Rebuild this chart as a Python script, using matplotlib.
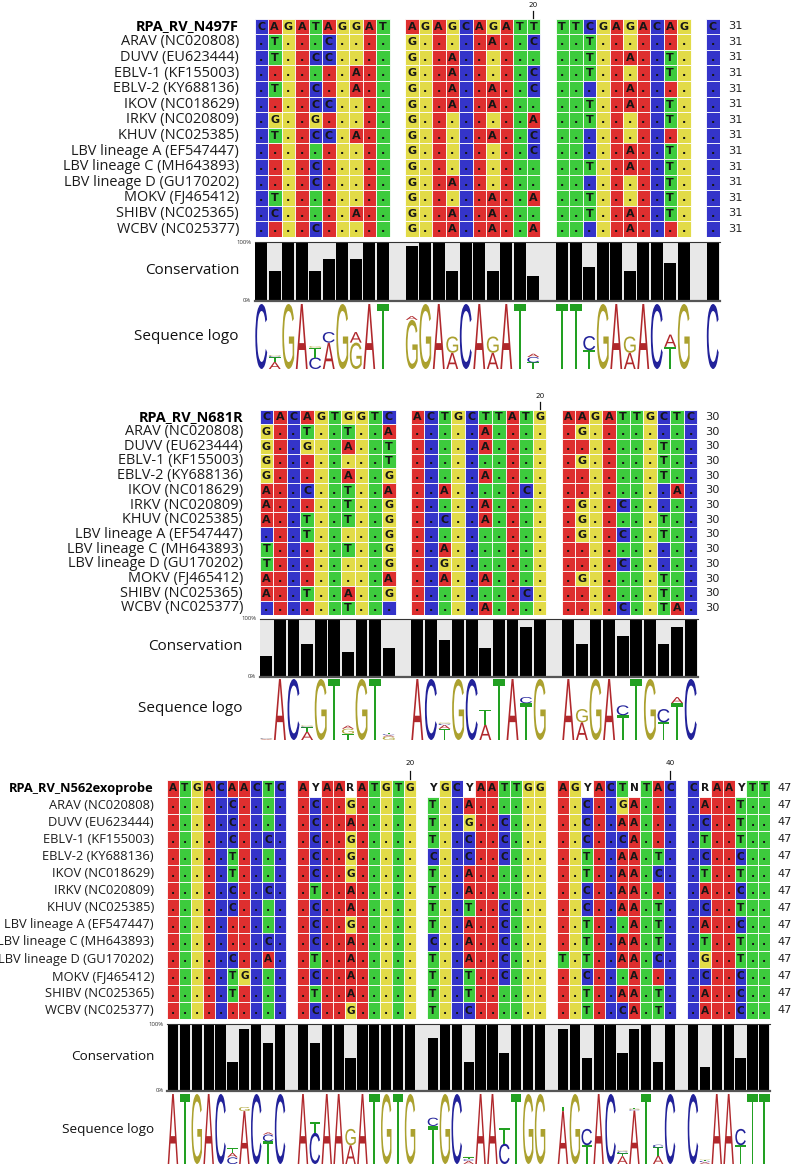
import matplotlib
matplotlib.use("Agg")
import matplotlib.pyplot as plt
from matplotlib.patches import Rectangle, PathPatch
from matplotlib.textpath import TextPath
from matplotlib.font_manager import FontProperties
from matplotlib.transforms import Affine2D
import numpy as np

# ---------------- DATA ----------------
names = ["ARAV (NC020808)", "DUVV (EU623444)", "EBLV-1 (KF155003)", "EBLV-2 (KY688136)",
         "IKOV (NC018629)", "IRKV (NC020809)", "KHUV (NC025385)", "LBV lineage A (EF547447)",
         "LBV lineage C (MH643893)", "LBV lineage D (GU170202)", "MOKV (FJ465412)",
         "SHIBV (NC025365)", "WCBV (NC025377)"]

# Panel 1
p1_name = "RPA_RV_N497F"
p1_ref = ["CAGATAGGAT", "AGAGCAGATT", "TTCGAGACAG", "C"]
p1_rows = [
    ".T...C.... G.....A..C ..T....... .",
    ".T..CC.... G..A...... ..T..A..T. .",
    ".......A.. G..A.....C ..T.....T. .",
    ".T..C..A.. G..A..A..C .....A.... .",
    "....CC.... G..A..A... ..T..A..T. .",
    ".G..G..... G........A ..T.....T. .",
    ".T..CC.A.. G.....A..C .......... .",
    ".......... G........C .....A..T. .",
    "....C..... G......... ..T..A..T. .",
    "....C..... G..A...... ........T. .",
    ".T........ G.....A..A ..T.....T. .",
    ".C.....A.. G..A..A... ..T..A..T. .",
    "....C..... G..A..A..A .....A.... .",
]
p1_cons = [100, 50, 100, 100, 50, 71, 100, 71, 100, 100,
           93, 100, 100, 50, 100, 100, 50, 100, 100, 43,
           100, 100, 57, 100, 100, 50, 100, 100, 64, 100,
           100]
p1_markers = [20]
p1_count = "31"

# Panel 2
p2_name = "RPA_RV_N681R"
p2_ref = ["CACAGTGGTC", "ACTGCTTATG", "AAGATTGCTC"]
p2_rows = [
    "G..T..T..A .....A.... .G........",
    "G..G..A..T .....A.... .......T..",
    "G........T .......... .G.....T..",
    "G.....A..G .....A.... .......T..",
    "A..C..T..A ..A.....C. ........A.",
    "A.....T..G .....A.... .G..C.....",
    "A..T..T..G ..C..A.... .G.....T..",
    "...T.....G .......... .G..C..T..",
    "T.....T..G ..A....... ..........",
    "T........G ..G....... ....C.....",
    "A........A ..A..A.... .G.....T..",
    "A..T..A..G ........C. .......T..",
    "......T... .....A.... ....C..TA.",
]
p2_cons = [36, 100, 100, 57, 100, 100, 43, 100, 100, 50,
           100, 100, 64, 100, 100, 50, 100, 100, 86, 100,
           100, 57, 100, 100, 71, 100, 100, 57, 86, 100]
p2_markers = [20]
p2_count = "30"

# Panel 3
p3_name = "RPA_RV_N562exoprobe"
p3_ref = ["ATGACAACTC", "AYAARATGTG", "YGCYAATTGG", "AGYACTNTAC", "CRAAYTT"]
p3_rows = [
    ".....C.... .C..G..... T..A...... ..C..GA... .A..T..",
    ".....C.... .C..A..... T..G..C... ..C..AA... .C..T..",
    ".....C..C. .C..G..... T..C..C... ..C..CA... .T..T..",
    ".....T.... .C..G..... C..C..C... ..T..AA.T. .C..C..",
    ".....T.... .C..G..... T..A...... ..T..AA.C. .T..T..",
    ".....C..C. .T..A..... T..A...... ..C..AA... .A..C..",
    ".....C.... .C..A..... T..T..C... ..C..AA.T. .C..T..",
    ".......... .C..G..... T..A..C... ..T...A.T. .A..C..",
    "........C. .C..A..... C..A..C... ..T..AA.T. .T..T..",
    ".....C..A. .T..A..... T..A..C... T.T..AA.C. .G..T..",
    ".....TG... .C..A..... T..T..C... ..C...A... .C..C..",
    ".....T.... .T..A..... T..T...... ..T..AA.T. .A..C..",
    ".......... .C..G..... T..C...... ..T..CA.T. .A..C..",
]
p3_cons = [100, 100, 100, 100, 100, 43, 93, 100, 71, 100,
           100, 71, 100, 100, 50, 100, 100, 100, 100, 100,
           79, 100, 100, 43, 100, 100, 57, 100, 100, 100,
           93, 100, 50, 100, 100, 57, 93, 100, 43, 100,
           100, 36, 100, 100, 50, 100, 100]
p3_markers = [20, 40]
p3_count = "47"

# ---------------- STYLE ----------------
W, H = 793, 1165
CELL_COL = {"A": "#DE2F2F", "C": "#3434C9", "G": "#E2DB48", "T": "#3DCB3D"}
LOGO_COL = {"A": "#B0282C", "C": "#22229A", "G": "#ABA12F", "T": "#22A022"}
IUPAC = {"A": "A", "C": "C", "G": "G", "T": "T", "Y": "CT", "R": "AG", "N": "ACGT"}
LABEL_FONT = "Open Sans"
LOGO_FP = FontProperties(family="Liberation Sans")

fig = plt.figure(figsize=(W / 100, H / 100), dpi=100)
renderer = fig.canvas.get_renderer()


def px_axes(left, top, width, height):
    ax = fig.add_axes([left / W, 1 - (top + height) / H, width / W, height / H])
    ax.set_axis_off()
    return ax


def fit_size(text, target, **kw):
    t = fig.text(0, 0, text, fontsize=10, **kw)
    w = t.get_window_extent(renderer).width
    t.remove()
    return 10 * target / w


def draw_letter(ax, ch, x, y, w, h, color):
    tp = TextPath((0, 0), ch, size=1, prop=LOGO_FP)
    bb = tp.get_extents()
    tr = Affine2D().translate(-bb.x0, -bb.y0).scale(w / bb.width, h / bb.height).translate(x, y)
    ax.add_patch(PathPatch(tr.transform_path(tp), facecolor=color, edgecolor="none", lw=0))


def draw_panel(name, ref_blocks, rows, cons, markers, count, g):
    blocks_len = [len(b) for b in ref_blocks]
    gu = g["gapw"] / g["cw"]
    xs = []
    off = 0.0
    for L in blocks_len:
        xs.extend([off + j for j in range(L)])
        off += L + gu
    total = off - gu
    ref = "".join(ref_blocks)
    seqs = []
    for r in rows:
        v = r.replace(" ", "")
        seqs.append("".join(ref[i] if c == "." else c for i, c in enumerate(v)))
    nrows = len(rows) + 1
    cw, x0 = g["cw"], g["x0"]
    width_px = total * cw

    # ---- alignment ----
    ax = px_axes(x0, g["top"], width_px, nrows * g["pitch"])
    ax.set_xlim(0, total)
    ax.set_ylim(nrows, 0)
    disp = [ref] + [r.replace(" ", "") for r in rows]
    actual = [ref] + seqs
    for ri in range(nrows):
        for ci, x in enumerate(xs):
            base = actual[ri][ci]
            fc = CELL_COL.get(base, "white")
            ax.add_patch(Rectangle((x, ri), 1, 1, facecolor=fc, edgecolor="white", lw=0.6))
            ch = disp[ri][ci]
            ax.text(x + 0.5, ri + 0.52, ch, ha="center", va="center", fontsize=g["cellfs"],
                    fontweight="bold", family="DejaVu Sans", color="#161616")
    # labels
    lab_fs = fit_size("LBV lineage C (MH643893)", g["lab_w"], family=LABEL_FONT)
    lx = -(x0 - g["lab_r"]) / cw
    ax.text(lx, 0.5, name, ha="right", va="center", fontsize=lab_fs, family=LABEL_FONT,
            fontweight="bold", color="black", clip_on=False)
    for i, nm in enumerate(names):
        ax.text(lx, i + 1.5, nm, ha="right", va="center", fontsize=lab_fs, family=LABEL_FONT,
                color="#1c1c1c", clip_on=False)
    cx = (g["count_x"] - x0) / cw
    for ri in range(nrows):
        ax.text(cx, ri + 0.5, count, ha="left", va="center", fontsize=8.2, family="DejaVu Sans",
                color="#222222", clip_on=False)
    # position markers
    for m in markers:
        mx = xs[m - 1] + 0.5
        ax.text(mx, -(g["top"] - g["mark_y"]) / g["pitch"], str(m), ha="center", va="center",
                fontsize=5.2, family="DejaVu Sans", color="#111111", clip_on=False)
        t0 = -(g["top"] - g["tick"][0]) / g["pitch"]
        t1 = -(g["top"] - g["tick"][1]) / g["pitch"]
        ax.plot([mx, mx], [t0, t1], color="#111111", lw=0.9, clip_on=False)

    # ---- conservation ----
    ct, cb = g["cons_box"]
    axc = px_axes(x0, ct, width_px, cb - ct)
    axc.set_xlim(0, total)
    axc.set_ylim(0, 100)
    axc.add_patch(Rectangle((0, 0), total, 100, facecolor="#E8E8E8", edgecolor="none", zorder=0))
    axc.bar([x + 0.5 for x in xs], cons, width=0.86, color="black", zorder=2)
    axc.plot([0, total], [100, 100], color="#333333", lw=0.8, zorder=3, clip_on=False)
    axc.plot([0, total], [0, 0], color="#555555", lw=1.6, zorder=3, clip_on=False)
    axc.text(-0.25, 100, "100%", ha="right", va="center", fontsize=4.3, family=LABEL_FONT,
             color="#333333", clip_on=False)
    axc.text(-0.25, 0, "0%", ha="right", va="center", fontsize=4.3, family=LABEL_FONT,
             color="#333333", clip_on=False)
    fig.text(g["lab_r"] / W, 1 - g["cons_lab_y"] / H, "Conservation", ha="right", va="center",
             fontsize=lab_fs * 1.05, family=LABEL_FONT, color="#111111")

    # ---- sequence logo ----
    lt, lb = g["logo_box"]
    axl = px_axes(x0, lt, width_px, lb - lt)
    axl.set_xlim(0, total)
    axl.set_ylim(0, 2)
    allseq = [ref] + seqs
    n = len(allseq)
    for ci, x in enumerate(xs):
        cnt = {b: 0.0 for b in "ACGT"}
        for s in allseq:
            opts = IUPAC[s[ci]]
            for b in opts:
                cnt[b] += 1.0 / len(opts)
        p = {b: cnt[b] / n for b in "ACGT"}
        Hs = -sum(v * np.log2(v) for v in p.values() if v > 0)
        R = 2 - Hs
        y = 0.0
        for b in sorted("ACGT", key=lambda k: -p[k]):
            h = p[b] * R
            if h <= 0.004:
                continue
            draw_letter(axl, b, x + 0.06, y, 0.88, h, LOGO_COL[b])
            y += h
    fig.text(g["lab_r"] / W, 1 - g["logo_lab_y"] / H, "Sequence logo", ha="right", va="center",
             fontsize=lab_fs * 1.05, family=LABEL_FONT, color="#111111")


g1 = dict(x0=254.5, cw=13.5, gapw=15.5, top=18.5, pitch=15.6, lab_r=239, lab_w=177, count_x=728,
          mark_y=5, tick=(11, 17.5), cons_box=(242, 301), logo_box=(304, 369),
          cons_lab_y=271, logo_lab_y=336, cellfs=8.0)
g2 = dict(x0=259.5, cw=13.6, gapw=15.0, top=409.5, pitch=14.7, lab_r=243, lab_w=177, count_x=705,
          mark_y=396, tick=(402, 408.5), cons_box=(619, 677), logo_box=(679, 740),
          cons_lab_y=647, logo_lab_y=709, cellfs=8.0)
g3 = dict(x0=167, cw=11.9, gapw=11.0, top=779.5, pitch=17.1, lab_r=154, lab_w=156, count_x=778,
          mark_y=763, tick=(771, 778.5), cons_box=(1024, 1091), logo_box=(1094, 1164),
          cons_lab_y=1057, logo_lab_y=1129, cellfs=7.6)

draw_panel(p1_name, p1_ref, p1_rows, p1_cons, p1_markers, p1_count, g1)
draw_panel(p2_name, p2_ref, p2_rows, p2_cons, p2_markers, p2_count, g2)
draw_panel(p3_name, p3_ref, p3_rows, p3_cons, p3_markers, p3_count, g3)

fig.savefig("out.png", dpi=100, facecolor="white")
